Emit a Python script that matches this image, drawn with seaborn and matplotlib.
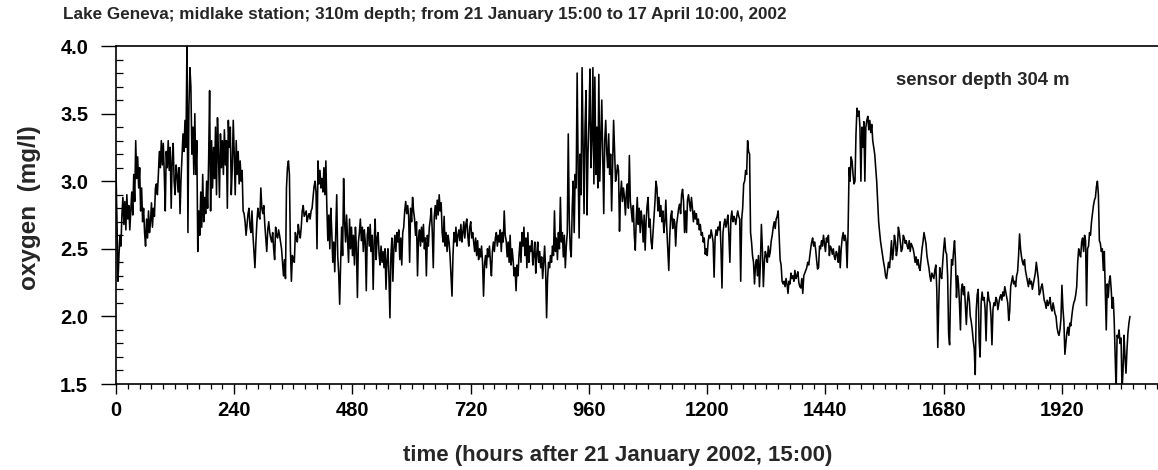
import numpy as np
import pandas as pd
import matplotlib
matplotlib.use("Agg")
import matplotlib.pyplot as plt
import seaborn as sns
from matplotlib.ticker import MultipleLocator, FormatStrFormatter

# Dissolved oxygen (mg/l) at 304 m, one reading every 2 hours,
# split into four consecutive periods of the record.
oxygen_part1 = [  # 0-518 h
    3.08, 2.70, 2.26, 2.45, 2.60, 2.52, 2.75, 2.88, 2.68, 2.85,
    2.64, 2.90, 2.72, 2.82, 2.64, 2.78, 2.92, 2.75, 3.05, 2.85,
    3.30, 3.02, 3.18, 2.95, 3.10, 2.78, 2.95, 2.70, 2.80, 2.62,
    2.52, 2.72, 2.58, 2.78, 2.62, 2.70, 2.84, 2.66, 2.80, 2.74,
    2.95, 2.98, 2.90, 3.05, 3.22, 3.10, 3.30, 3.12, 3.28, 3.05,
    2.78, 3.22, 3.10, 3.30, 3.08, 3.25, 2.80, 3.15, 3.28, 3.00,
    2.90, 3.12, 3.05, 2.92, 3.10, 2.76, 3.02, 3.18, 3.35, 3.22,
    3.45, 3.25, 4.00, 2.62, 3.55, 3.84, 3.70, 3.20, 3.40, 3.05,
    3.50, 3.05, 3.30, 2.48, 2.78, 2.60, 2.92, 2.66, 3.05, 2.70,
    2.88, 2.76, 3.00, 2.80, 3.15, 3.67, 2.78, 3.30, 2.95, 3.25,
    3.02, 3.40, 2.90, 3.47, 3.20, 2.88, 3.35, 3.10, 3.30, 3.05,
    3.38, 3.12, 3.30, 2.80, 3.45, 3.25, 3.40, 2.90, 3.10, 3.45,
    3.20, 2.90, 3.30, 3.05, 3.22, 2.98, 3.15, 3.00, 3.08, 2.78,
    2.76, 2.70, 2.60, 2.68, 2.76, 2.80, 2.66, 2.62, 2.78, 2.60,
    2.48, 2.36, 2.55, 2.70, 2.80, 2.74, 2.72, 2.95, 2.80, 2.76,
    2.82, 2.68, 2.58, 2.48, 2.64, 2.70, 2.62, 2.58, 2.55, 2.62,
    2.50, 2.42, 2.66, 2.60, 2.58, 2.64, 2.60, 2.55, 2.50, 2.40,
    2.30, 2.42, 2.28, 2.95, 3.10, 3.15, 3.05, 2.50, 2.26, 2.45,
    2.42, 2.40, 2.62, 2.58, 2.55, 2.68, 2.62, 2.58, 2.66, 2.78,
    2.82, 2.74, 2.76, 2.78, 2.70, 2.74, 2.76, 2.72, 2.78, 2.80,
    2.88, 2.96, 3.00, 2.92, 2.50, 3.15, 2.98, 3.08, 2.95, 3.02,
    2.92, 3.10, 2.90, 3.15, 2.80, 2.56, 2.75, 2.50, 2.80, 2.62,
    2.40, 2.55, 2.33, 2.60, 2.90, 2.45, 2.32, 2.09, 2.40, 2.66,
    2.45, 3.02, 2.70, 2.55, 2.75, 2.58, 2.40, 2.72, 2.50, 2.66,
    2.45, 2.60, 2.38, 2.66, 2.50, 2.14, 2.55, 2.62, 2.72, 2.56,
    2.66, 2.48, 2.64, 2.55, 2.19, 2.60, 2.66, 2.52, 2.68, 2.48,
]
oxygen_part2 = [  # 520-1038 h
    2.60, 2.20, 2.55, 2.72, 2.42, 2.58, 2.62, 2.46, 2.38, 2.52,
    2.40, 2.48, 2.36, 2.50, 2.20, 2.42, 2.50, 2.30, 1.99, 2.45,
    2.58, 2.26, 2.50, 2.60, 2.48, 2.62, 2.55, 2.64, 2.42, 2.58,
    2.38, 2.62, 2.66, 2.78, 2.85, 2.76, 2.82, 2.74, 2.40, 2.80,
    2.70, 2.88, 2.78, 2.72, 2.60, 2.70, 2.30, 2.58, 2.64, 2.52,
    2.66, 2.55, 2.68, 2.50, 2.58, 2.30, 2.60, 2.52, 2.66, 2.72,
    2.80, 2.62, 2.36, 2.74, 2.82, 2.72, 2.86, 2.75, 2.90, 2.78,
    2.84, 2.62, 2.55, 2.74, 2.52, 2.62, 2.48, 2.60, 2.55, 2.45,
    2.30, 2.15, 2.45, 2.62, 2.55, 2.66, 2.52, 2.60, 2.64, 2.56,
    2.68, 2.55, 2.62, 2.70, 2.58, 2.68, 2.72, 2.60, 2.52, 2.66,
    2.70, 2.58, 2.62, 2.55, 2.48, 2.58, 2.45, 2.56, 2.42, 2.50,
    2.44, 2.52, 2.40, 2.15, 2.38, 2.45, 2.36, 2.50, 2.44, 2.52,
    2.40, 2.30, 2.48, 2.55, 2.48, 2.58, 2.62, 2.52, 2.60, 2.55,
    2.64, 2.48, 2.62, 2.55, 2.78, 2.60, 2.56, 2.44, 2.55, 2.40,
    2.60, 2.38, 2.50, 2.42, 2.30, 2.36, 2.19, 2.38, 2.30, 2.45,
    2.55, 2.40, 2.62, 2.52, 2.66, 2.45, 2.58, 2.36, 2.62, 2.40,
    2.52, 2.48, 2.56, 2.38, 2.46, 2.55, 2.32, 2.46, 2.55, 2.40,
    2.48, 2.36, 2.44, 2.28, 2.40, 2.52, 2.35, 1.99, 2.28, 2.40,
    2.36, 2.45, 2.40, 2.52, 2.45, 2.78, 2.48, 2.58, 2.42, 2.62,
    2.50, 2.88, 2.55, 2.62, 2.44, 2.60, 2.36, 2.52, 2.62, 3.35,
    2.72, 2.50, 2.44, 2.80, 3.00, 2.62, 3.05, 2.95, 3.80, 3.10,
    2.58, 3.20, 2.90, 3.84, 3.30, 2.76, 3.40, 3.67, 2.75, 3.20,
    3.45, 3.83, 3.10, 3.30, 3.84, 2.98, 3.77, 3.05, 3.40, 2.95,
    3.79, 3.00, 3.30, 3.60, 3.20, 2.76, 3.30, 3.45, 3.22, 3.10,
    3.35, 3.05, 3.20, 2.78, 3.10, 3.45, 3.22, 3.00, 3.05, 3.12,
    3.08, 2.63, 2.90, 3.00, 2.85, 2.95, 2.88, 2.75, 2.92, 2.98,
]
oxygen_part3 = [  # 1040-1558 h
    2.80, 3.19, 2.85, 2.78, 2.70, 2.82, 2.60, 2.49, 2.72, 2.88,
    2.68, 2.80, 2.62, 2.78, 2.70, 2.55, 2.75, 2.49, 2.70, 2.82,
    2.88, 2.66, 2.72, 2.56, 2.50, 2.62, 2.75, 2.85, 3.00, 2.95,
    2.78, 2.88, 2.74, 2.82, 2.70, 2.78, 2.62, 2.70, 2.86, 2.65,
    2.50, 2.34, 2.60, 2.74, 2.78, 2.65, 2.72, 2.70, 2.52, 2.68,
    2.74, 2.80, 2.83, 2.76, 2.90, 2.94, 2.85, 2.62, 2.78, 2.62,
    2.86, 2.90, 2.84, 2.78, 2.88, 2.80, 2.70, 2.78, 2.72, 2.76,
    2.68, 2.72, 2.64, 2.68, 2.60, 2.62, 2.55, 2.58, 2.46, 2.50,
    2.45, 2.56, 2.60, 2.58, 2.64, 2.60, 2.55, 2.29, 2.58, 2.64,
    2.60, 2.66, 2.64, 2.70, 2.50, 2.21, 2.62, 2.68, 2.72, 2.66,
    2.70, 2.75, 2.60, 2.40, 2.72, 2.78, 2.70, 2.74, 2.72, 2.68,
    2.74, 2.78, 2.74, 2.72, 2.26, 2.72, 2.80, 2.98, 3.00, 3.08,
    3.05, 3.30, 3.22, 3.20, 2.62, 2.55, 2.45, 2.40, 2.24, 2.38,
    2.42, 2.30, 2.45, 2.22, 2.40, 2.68, 2.50, 2.22, 2.40, 2.48,
    2.45, 2.40, 2.52, 2.44, 2.48, 2.56, 2.60, 2.66, 2.70, 2.65,
    2.72, 2.74, 2.78, 2.60, 2.42, 2.38, 2.26, 2.24, 2.26, 2.22,
    2.28, 2.24, 2.17, 2.26, 2.24, 2.32, 2.28, 2.30, 2.26, 2.34,
    2.28, 2.30, 2.33, 2.25, 2.22, 2.21, 2.28, 2.17, 2.30, 2.32,
    2.34, 2.36, 2.40, 2.38, 2.44, 2.50, 2.55, 2.58, 2.52, 2.55,
    2.50, 2.42, 2.35, 2.36, 2.52, 2.50, 2.56, 2.52, 2.60, 2.54,
    2.48, 2.58, 2.55, 2.60, 2.45, 2.52, 2.50, 2.46, 2.50, 2.44,
    2.42, 2.48, 2.46, 2.40, 2.52, 2.36, 2.50, 2.58, 2.62, 2.56,
    2.60, 2.55, 2.36, 2.64, 3.10, 3.00, 3.18, 3.15, 3.05, 2.98,
    3.00, 3.35, 3.54, 3.48, 3.52, 3.40, 3.00, 3.40, 3.25, 3.44,
    3.00, 3.40, 3.45, 3.48, 3.38, 3.45, 3.36, 3.42, 3.30, 3.25,
    3.20, 3.10, 3.00, 2.85, 2.70, 2.62, 2.55, 2.50, 2.45, 2.40,
]
oxygen_part4 = [  # 1560-2058 h
    2.36, 2.30, 2.28, 2.34, 2.40, 2.36, 2.45, 2.56, 2.42, 2.48,
    2.60, 2.55, 2.45, 2.50, 2.66, 2.62, 2.55, 2.48, 2.50, 2.60,
    2.58, 2.54, 2.56, 2.52, 2.50, 2.56, 2.48, 2.54, 2.52, 2.50,
    2.46, 2.40, 2.44, 2.38, 2.42, 2.36, 2.34, 2.42, 2.50, 2.55,
    2.62, 2.58, 2.54, 2.45, 2.40, 2.36, 2.30, 2.26, 2.32, 2.30,
    2.28, 2.34, 2.38, 2.20, 1.77, 2.10, 2.36, 2.30, 2.28, 2.40,
    2.50, 2.58, 2.48, 2.46, 2.30, 1.87, 1.79, 2.20, 2.42, 2.38,
    2.48, 2.56, 2.40, 2.14, 2.30, 2.24, 2.10, 1.90, 2.20, 2.24,
    2.16, 2.22, 2.08, 1.94, 2.10, 2.18, 2.12, 2.00, 1.96, 1.90,
    1.82, 1.76, 1.57, 2.04, 2.16, 2.20, 1.82, 1.70, 2.10, 2.18,
    2.12, 2.14, 2.06, 1.82, 2.08, 2.18, 2.12, 2.10, 2.00, 1.79,
    2.05, 2.10, 2.08, 2.14, 2.12, 2.05, 2.10, 2.14, 2.16, 2.12,
    2.18, 2.15, 2.22, 2.18, 2.14, 2.10, 1.97, 2.04, 2.22, 2.26,
    2.30, 2.24, 2.26, 2.22, 2.30, 2.33, 2.45, 2.61, 2.50, 2.44,
    2.40, 2.38, 2.42, 2.34, 2.30, 2.26, 2.22, 2.28, 2.24, 2.26,
    2.20, 2.24, 2.28, 2.32, 2.40, 2.34, 2.28, 2.16, 2.18, 2.22,
    2.24, 2.18, 2.12, 2.10, 2.06, 2.12, 2.08, 2.10, 2.14, 2.06,
    2.04, 2.10, 2.06, 2.02, 2.00, 1.92, 1.88, 1.86, 1.90, 1.98,
    2.23, 2.06, 1.96, 1.72, 1.80, 1.88, 1.92, 1.86, 1.95, 1.93,
    2.00, 2.06, 2.10, 2.12, 2.16, 2.22, 2.40, 2.50, 2.46, 2.44,
    2.55, 2.58, 2.48, 2.60, 2.56, 2.08, 2.50, 2.52, 2.62, 2.60,
    2.70, 2.76, 2.82, 2.86, 2.88, 2.96, 3.00, 2.90, 2.56, 2.54,
    2.48, 2.50, 2.34, 2.48, 2.20, 1.90, 2.24, 2.14, 2.26, 2.30,
    2.20, 2.06, 2.14, 1.98, 1.70, 1.45, 1.86, 1.84, 1.90, 1.80,
    1.84, 1.45, 1.60, 1.86, 1.70, 1.58, 1.75, 1.88, 1.95, 2.00,
]

# 2-hourly sampling grid, hours after 21 January 2002, 15:00
hours = np.arange(0, 2060, 2)

x_ticks = [0, 240, 480, 720, 960, 1200, 1440, 1680, 1920]
y_ticks = [1.5, 2.0, 2.5, 3.0, 3.5, 4.0]

title_text = ("Lake Geneva; midlake station; 310m depth; "
              "from 21 January 15:00 to 17 April 10:00, 2002")
x_label = "time (hours after 21 January 2002, 15:00)"
y_label = "oxygen  (mg/l)"
sensor_note = "sensor depth 304 m"

oxygen = np.concatenate([oxygen_part1, oxygen_part2, oxygen_part3, oxygen_part4])
record = pd.DataFrame({"hours": hours, "oxygen": oxygen})

sns.set_theme(style="ticks")
plt.rcParams["font.family"] = ["Liberation Sans", "DejaVu Sans"]
plt.rcParams["font.weight"] = "bold"
plt.rcParams["axes.labelweight"] = "bold"

W, H = 1158, 470
fig = plt.figure(figsize=(W / 100, H / 100), dpi=100)
left, right, top, bottom = 116, 1158, 46, 384
ax = fig.add_axes([left / W, 1 - bottom / H, (right - left) / W, (bottom - top) / H])

sns.lineplot(data=record, x="hours", y="oxygen", ax=ax, color="black",
             linewidth=1.15, estimator=None, sort=False)

ax.set_xlim(0, 2115)
ax.set_ylim(1.5, 4.0)
ax.set_xticks(x_ticks)
ax.set_yticks(y_ticks)
ax.yaxis.set_major_formatter(FormatStrFormatter("%.1f"))
ax.xaxis.set_minor_locator(MultipleLocator(24))
ax.yaxis.set_minor_locator(MultipleLocator(0.1))

ax.tick_params(which="major", direction="out", width=1.0, color="black",
               labelsize=14.5, labelcolor="black")
ax.tick_params(axis="x", which="major", length=7, pad=5)
ax.tick_params(axis="y", which="major", length=11, pad=9)
ax.tick_params(axis="x", which="minor", direction="out", length=3.5, width=0.9, color="black")
ax.tick_params(axis="y", which="minor", direction="in", length=5, width=0.9, color="black")
for lab in ax.get_xticklabels() + ax.get_yticklabels():
    lab.set_fontweight("bold")

for side in ("left", "bottom", "top"):
    ax.spines[side].set_color("black")
    ax.spines[side].set_linewidth(1.2)
ax.spines["right"].set_visible(False)

ax.set_xlabel(x_label, fontsize=16, fontweight="bold", va="center")
ax.set_ylabel(y_label, fontsize=17.5, fontweight="bold", va="center")
ax.xaxis.set_label_coords((618 - left) / (right - left), -(455 - bottom) / (bottom - top))
ax.yaxis.set_label_coords(-(left - 30) / (right - left), (bottom - 208) / (bottom - top))

fig.text(63 / W, 1 - 19 / H, title_text, fontsize=12.3, fontweight="bold",
         ha="left", va="baseline")
ax.text(1583, 3.745, sensor_note, fontsize=13.3, fontweight="bold",
        ha="left", va="center")

fig.savefig("out.png", dpi=100, facecolor="white")
